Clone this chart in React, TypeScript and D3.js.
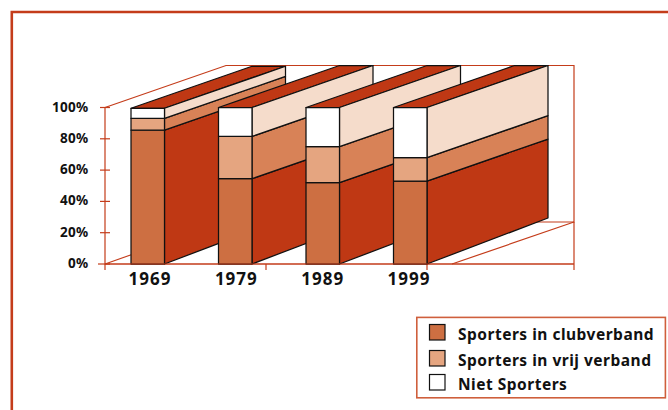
import React from "react";
import * as d3 from "d3";

const years = ["1969", "1979", "1989", "1999"];
const club = [85.5, 54.5, 52, 53];
const vrij = [7.5, 27, 23, 15];
const niet = [6.5, 18.5, 25, 32];
const yTicks = [0, 20, 40, 60, 80, 100];
const legendLabels = ["Sporters in clubverband", "Sporters in vrij verband", "Niet Sporters"];

const FRONT = ["#cd6f42", "#e5a580", "#ffffff"];
const SIDE = ["#bf3814", "#d88257", "#f5dccb"];
const TOP = "#bf3814";
const RED = "#c43c1a";
const FONT = "'Noto Sans', sans-serif";

const W = 668;
const H = 410;
const y = d3.scaleLinear().domain([0, 100]).range([264, 107.5]);
const barX = d3.scalePoint<string>().domain(years).range([131, 393.5]);
const labelX = d3.scalePoint<string>().domain(years).range([150, 409]);
const barW = 33.5;
const DX = 121;
const DY = -42;
const dyAt = (v: number) => (v === 0 ? -46 : DY);
const poly = d3.line<[number, number]>().curve(d3.curveLinearClosed);

export default function App() {
  return (
    <svg width={W} height={H} style={{ position: "absolute", left: 0, top: 0, background: "#fff" }}>
      {/* frame */}
      <path d={`M11.8 410V12H668`} fill="none" stroke={RED} strokeWidth={2.6} />

      {/* 3D walls */}
      <g fill="none" stroke={RED} strokeWidth={1.2}>
        <path d={`M105 ${y(100)}L${105 + DX} ${y(100) + DY}H574V${y(0) + DY}H${105 + DX}`} />
        <path d={`M105 ${y(0)}L${105 + 27} ${y(0) - 9.5}`} />
        <path d={`M452 ${y(0)}L574 ${y(0) + DY}`} />
        <path d={`M105 ${y(100)}V${y(0)}H574`} />
        <path d={`M574 ${y(0)}V${y(0) + DY}`} />
        {yTicks.map((t) => (
          <path key={t} d={`M${t === 0 ? 98 : 100} ${y(t)}H110`} />
        ))}
        {[105, 266, 427, 574].map((x) => (
          <path key={x} d={`M${x} ${y(0)}V${y(0) + 6}`} />
        ))}
      </g>

      {/* bars */}
      {years.map((yr, i) => {
        const x0 = barX(yr)!;
        const x1 = x0 + barW;
        const stack = [club[i], vrij[i], niet[i]];
        let acc = 0;
        const segs = stack.map((v) => {
          const s = { a: acc, b: acc + v };
          acc += v;
          return s;
        });
        const top = y(acc);
        return (
          <g key={yr} stroke="#111" strokeWidth={1.25} strokeLinejoin="round">
            <path
              d={poly([[x0, top], [x1, top], [x1 + DX, top + DY], [x0 + DX, top + DY]])!}
              fill={TOP}
            />
            {segs.map((s, k) => (
              <g key={k}>
                <path
                  d={poly([[x1, y(s.a)], [x1 + DX, y(s.a) + dyAt(s.a)], [x1 + DX, y(s.b) + DY], [x1, y(s.b)]])!}
                  fill={SIDE[k]}
                />
                <rect x={x0} y={y(s.b)} width={barW} height={y(s.a) - y(s.b)} fill={FRONT[k]} />
              </g>
            ))}
          </g>
        );
      })}
      <path d={`M105 ${y(0)}H574`} stroke={RED} strokeWidth={1.2} fill="none" />

      {/* labels */}
      <g fontFamily={FONT} fontWeight={700} fill="#111">
        {yTicks.map((t) => (
          <text key={t} x={88.5} y={y(t) + 4} textAnchor="end" fontSize={13.5} letterSpacing={0.3}>{`${t}%`}</text>
        ))}
        {years.map((yr) => (
          <text key={yr} x={labelX(yr)!} y={285} textAnchor="middle" fontSize={17} letterSpacing={1}>{yr}</text>
        ))}
      </g>

      {/* legend */}
      <rect x={416.8} y={317.4} width={248.6} height={80.4} fill="#fff" stroke="#cf5f3c" strokeWidth={1.6} />
      {legendLabels.map((l, i) => (
        <g key={l}>
          <rect x={429.5} y={324.5 + [0, 26, 50][i]} width={15.5} height={15.5} fill={FRONT[i]} stroke="#111" strokeWidth={1.2} />
          <text x={458} y={340 + [0, 26, 50][i]} fontFamily={FONT} fontWeight={700} fontSize={15.5} letterSpacing={0.5} fill="#111">{l}</text>
        </g>
      ))}
    </svg>
  );
}
